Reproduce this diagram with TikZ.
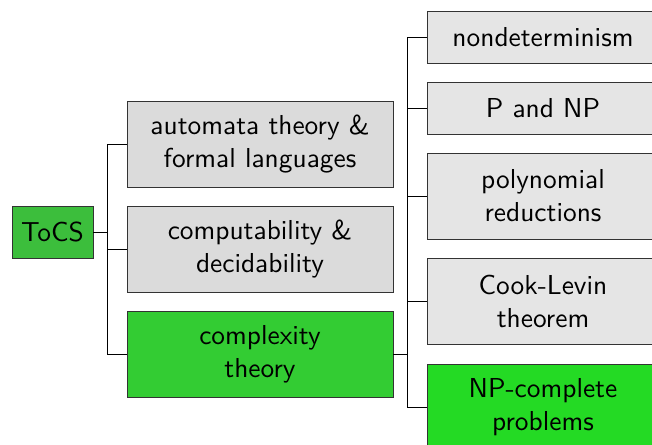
\documentclass[tikz,border=0pt]{standalone}
\usepackage{fontspec}
\newfontfamily\tensans{lmsans10-regular.otf}
\begin{document}
\begin{tikzpicture}[x=1pt,y=-1pt,
  box/.style={draw=black!80,line width=0.9pt,rectangle,inner sep=0pt,align=center,
    font=\tensans\fontsize{27.4}{33}\selectfont,text=black},
  lone/.style={box,minimum width=266pt,minimum height=86pt,fill=gray!28},
  ltwo/.style={box,minimum width=232pt,minimum height=86pt,fill=gray!20},
  conn/.style={draw=black,line width=0.9pt}]
\useasboundingbox (0,0) rectangle (652,444);
\clip (0,0) rectangle (652,444);
\node[box,minimum width=81pt,minimum height=52pt,fill={rgb,255:red,60;green,190;blue,60}] (tocs) at (52.5,232) {ToCS};
\node[lone] (auto) at (260,144) {automata theory \&\\formal languages};
\node[lone] (comp) at (260,249) {computability \&\\decidability};
\node[lone,fill={rgb,255:red,51;green,204;blue,51}] (cplx) at (260,354) {complexity\\theory};
\node[ltwo,minimum height=52pt] (nondet) at (543,37) {nondeterminism};
\node[ltwo,minimum height=52pt] (pnp) at (543,108) {P and NP};
\node[ltwo] (poly) at (543,196) {polynomial\\reductions};
\node[ltwo] (cook) at (543,301) {Cook-Levin\\theorem};
\node[ltwo,fill={rgb,255:red,36;green,218;blue,36}] (npc) at (543,407) {NP-complete\\problems};
\coordinate (j1) at (107,232);
\coordinate (j2) at (407,354);
\draw[conn] (tocs.east) -- (j1);
\draw[conn] (j1) |- (auto.west);
\draw[conn] (j1) |- (comp.west);
\draw[conn] (j1) |- (cplx.west);
\draw[conn] (cplx.east) -- (j2);
\draw[conn] (j2) |- (nondet.west);
\draw[conn] (j2) |- (pnp.west);
\draw[conn] (j2) |- (poly.west);
\draw[conn] (j2) |- (cook.west);
\draw[conn] (j2) |- (npc.west);
\end{tikzpicture}
\end{document}
